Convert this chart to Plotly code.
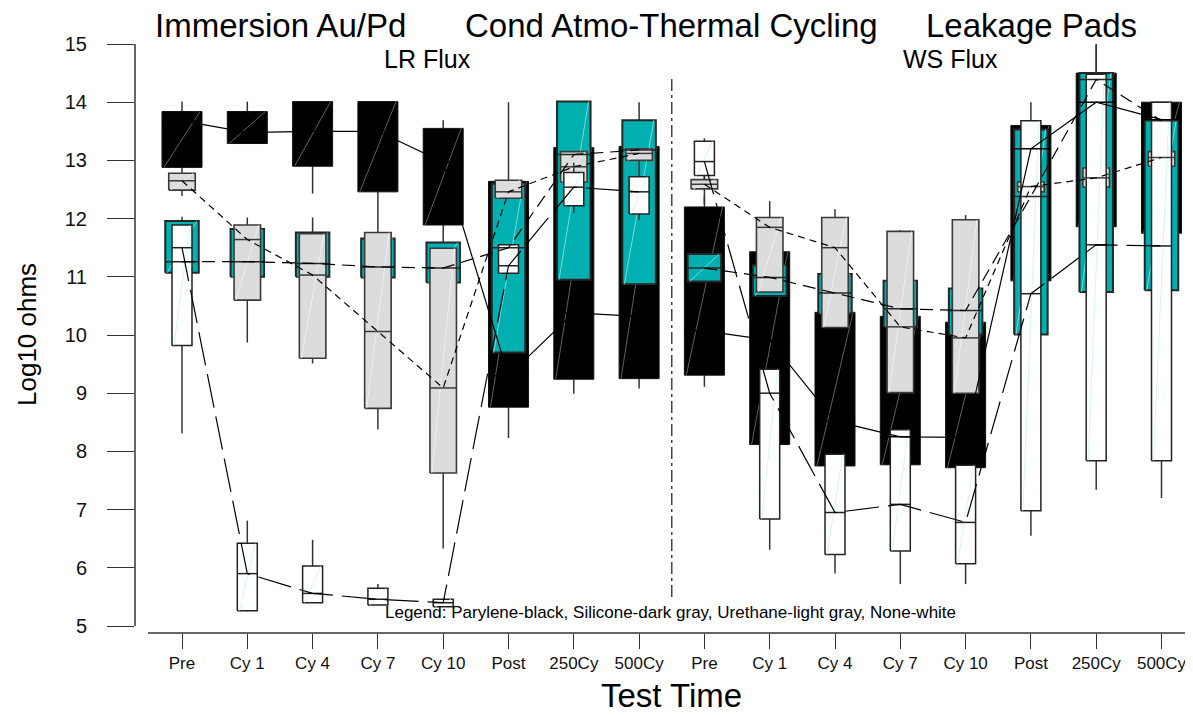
import plotly.graph_objects as go

# ---------------- data ----------------
tick_labels = ["Pre", "Cy 1", "Cy 4", "Cy 7", "Cy 10", "Post", "250Cy", "500Cy",
               "Pre", "Cy 1", "Cy 4", "Cy 7", "Cy 10", "Post", "250Cy", "500Cy"]
positions = list(range(16))

# Parylene (black)
parylene_q1 = [12.88, 13.29, 12.90, 12.46, 11.89, 8.76, 9.24, 9.25,
               9.31, 8.12, 7.75, 7.77, 7.72, 10.93, 11.86, 11.75]
parylene_q3 = [13.84, 13.84, 14.01, 14.01, 13.55, 12.64, 13.22, 13.24,
               12.20, 11.43, 10.39, 10.32, 10.22, 13.60, 14.50, 14.00]
parylene_med = [13.68, 13.48, 13.50, 13.50, 12.97, 9.30, 10.38, 10.32,
                10.07, 9.91, 8.52, 8.25, 8.24, 13.20, 14.00, 13.70]
parylene_lo = [12.70, 13.29, 12.43, 11.70, 11.60, 8.23, 8.99, 9.08,
               9.11, 8.12, 7.75, 7.77, 7.72, 10.93, 11.86, 11.75]
parylene_hi = [14.01, 14.01, 14.01, 14.01, 13.69, 12.64, 13.22, 13.24,
               12.38, 11.43, 10.39, 10.32, 10.22, 13.60, 14.98, 14.00]

# Silicone (teal)
silicone_q1 = [11.07, 11.00, 11.00, 10.99, 10.90, 9.70, 10.95, 10.87,
               10.92, 10.67, 10.37, 10.14, 10.01, 10.01, 10.74, 10.77]
silicone_q3 = [11.96, 11.82, 11.76, 11.66, 11.59, 12.60, 14.01, 13.69,
               11.39, 11.20, 11.05, 10.93, 10.80, 13.53, 14.50, 13.70]
silicone_med = [11.26, 11.26, 11.23, 11.17, 11.15, 11.50, 13.10, 13.18,
                11.15, 10.99, 10.72, 10.45, 10.42, 12.38, 14.39, 13.68]
silicone_lo = [11.07, 11.00, 11.00, 10.99, 10.90, 9.70, 10.95, 10.87,
               10.92, 10.67, 10.37, 10.14, 10.01, 10.01, 10.74, 10.77]
silicone_hi = [12.03, 11.82, 11.76, 11.66, 11.59, 14.00, 14.01, 14.00,
               11.39, 11.20, 11.05, 10.93, 10.80, 13.53, 14.50, 13.70]

# Urethane (light gray)
urethane_q1 = [12.49, 10.60, 9.60, 8.74, 7.63, 12.35, 12.63, 13.00,
               12.51, 10.74, 10.13, 9.01, 9.00, 12.46, 12.54, 12.90]
urethane_q3 = [12.78, 11.89, 11.74, 11.76, 11.49, 12.66, 13.15, 13.20,
               12.67, 12.02, 12.02, 11.78, 11.98, 12.63, 12.87, 13.15]
urethane_med = [12.65, 11.64, 11.03, 10.06, 9.09, 12.46, 12.89, 13.12,
                12.59, 11.85, 11.50, 10.14, 9.95, 12.55, 12.70, 13.05]
urethane_lo = [12.39, 9.87, 9.51, 8.38, 6.33, 12.35, 12.63, 13.00,
               12.25, 10.74, 10.13, 9.01, 9.00, 12.46, 12.54, 12.90]
urethane_hi = [12.78, 12.02, 12.02, 11.76, 11.49, 12.66, 13.15, 13.20,
               12.74, 12.30, 12.16, 11.80, 12.06, 12.63, 12.87, 13.15]

# None (white)
none_q1 = [9.82, 5.26, 5.40, 5.36, 5.33, 11.06, 12.22, 12.08,
           12.74, 6.84, 6.23, 6.29, 6.07, 6.98, 7.84, 7.84]
none_q3 = [11.89, 6.42, 6.03, 5.65, 5.46, 11.55, 12.79, 12.72,
           13.33, 9.41, 7.95, 8.37, 7.76, 13.68, 14.48, 14.00]
none_med = [11.50, 5.90, 5.56, 5.46, 5.40, 11.19, 12.54, 12.46,
            12.98, 9.00, 6.95, 7.09, 6.78, 10.71, 11.55, 11.53]
none_lo = [8.31, 5.25, 5.40, 5.36, 5.33, 11.06, 12.10, 11.98,
           12.67, 6.31, 5.90, 5.72, 5.72, 6.55, 7.34, 7.20]
none_hi = [11.89, 6.81, 6.48, 5.72, 5.46, 11.55, 12.96, 13.00,
           13.38, 9.41, 7.95, 8.37, 7.76, 14.00, 15.00, 14.00]

y_ticks = [5, 6, 7, 8, 9, 10, 11, 12, 13, 14, 15]
group_break = 7.5  # divider between LR Flux and WS Flux groups

# ---------------- styling ----------------
FONT = "Arial, 'Liberation Sans', sans-serif"
series = [
    dict(name="Parylene", q1=parylene_q1, q3=parylene_q3, med=parylene_med, lo=parylene_lo, hi=parylene_hi,
         w=0.613, fill="#000000", edge="#111111", ew=1.0, medc="#000000", diag="#8a8a8a",
         dash="solid"),
    dict(name="Silicone", q1=silicone_q1, q3=silicone_q3, med=silicone_med, lo=silicone_lo, hi=silicone_hi,
         w=0.513, fill="#00B0B0", edge="#262626", ew=2.0, medc="#262626", diag="#a8eeee",
         dash="13px,7px"),
    dict(name="Urethane", q1=urethane_q1, q3=urethane_q3, med=urethane_med, lo=urethane_lo, hi=urethane_hi,
         w=0.406, fill="#DCDCDC", edge="#3a3a3a", ew=1.6, medc="#3a3a3a", diag="#f6f6f6",
         dash="7px,5px"),
    dict(name="None", q1=none_q1, q3=none_q3, med=none_med, lo=none_lo, hi=none_hi,
         w=0.306, fill="#FFFFFF", edge="#222222", ew=1.5, medc="#222222", diag="#c4efef",
         dash="34px,9px"),
]

fig = go.Figure()

# boxes with whiskers, back to front
for s in series:
    w = s["w"]
    wx, wy = [], []
    for p, a, b, lo, hi in zip(positions, s["q1"], s["q3"], s["lo"], s["hi"]):
        wx += [p, p, None, p, p, None]
        wy += [b, hi, None, a, lo, None]
    fig.add_trace(go.Scatter(x=wx, y=wy, mode="lines", line=dict(color="#333333", width=1.5),
                             hoverinfo="skip", showlegend=False))
    bx, by = [], []
    for p, a, b in zip(positions, s["q1"], s["q3"]):
        bx += [p - w / 2, p + w / 2, p + w / 2, p - w / 2, p - w / 2, None]
        by += [a, a, b, b, a, None]
    fig.add_trace(go.Scatter(x=bx, y=by, mode="lines", fill="toself", fillcolor=s["fill"],
                             line=dict(color=s["edge"], width=s["ew"]), name=s["name"],
                             hoverinfo="skip", showlegend=False))
    dx, dy = [], []
    for p, a, b in zip(positions, s["q1"], s["q3"]):
        dx += [p - w / 2 + 0.03, p + w / 2 - 0.03, None]
        dy += [a, b, None]
    fig.add_trace(go.Scatter(x=dx, y=dy, mode="lines", line=dict(color=s["diag"], width=0.7),
                             hoverinfo="skip", showlegend=False))

# medians drawn over all boxes
for s in series:
    w = s["w"]
    mx, my = [], []
    for p, m in zip(positions, s["med"]):
        mx += [p - w / 2, p + w / 2, None]
        my += [m, m, None]
    fig.add_trace(go.Scatter(x=mx, y=my, mode="lines", line=dict(color=s["medc"], width=1.5),
                             hoverinfo="skip", showlegend=False))

# median-connecting lines (on top), separate for each flux group
for s in series:
    lx, ly = [], []
    for p, m in zip(positions, s["med"]):
        if p > group_break and lx and lx[-1] is not None and lx[-1] < group_break:
            lx.append(None)
            ly.append(None)
        lx.append(p)
        ly.append(m)
    fig.add_trace(go.Scatter(x=lx, y=ly, mode="lines", connectgaps=False,
                             line=dict(color="#000000", width=1.2, dash=s["dash"]),
                             hoverinfo="skip", showlegend=False))

# page has an 8px body margin; figure sized so it ends at the window edge
OFF = 8
W, H = 1193 - OFF, 715 - OFF
L, T, B = 135 - OFF, 41 - OFF, 82
plot_w = W - L
plot_h = H - T - B
px_per_unit = 65.3
x_left = -(182 - 135) / px_per_unit
x_right = x_left + plot_w / px_per_unit
y_bottom = 5 - 7 / 58.2
y_top = 15 + 3 / 58.2


def px_x(px):
    return (px - OFF - L) / plot_w


def px_y(py):
    return (H - B - (py - OFF)) / plot_h


fig.update_layout(
    width=W, height=H,
    margin=dict(l=L, r=0, t=T, b=B, pad=0),
    plot_bgcolor="white", paper_bgcolor="white",
    font=dict(family=FONT, color="#111111"),
    showlegend=False,
    xaxis=dict(range=[x_left, x_right], tickmode="array", tickvals=positions, ticktext=tick_labels,
               ticks="outside", ticklen=15, tickwidth=1.3, tickcolor="#333333",
               showline=False, showgrid=False, zeroline=False, tickfont=dict(size=17, family=FONT)),
    yaxis=dict(range=[y_bottom, y_top], tickmode="array", tickvals=y_ticks,
               ticks="outside", ticklen=27, tickwidth=1.3, tickcolor="#333333",
               showline=False, showgrid=False, zeroline=False, tickfont=dict(size=20, family=FONT),
               ticklabelstandoff=16),
    shapes=[
        dict(type="line", xref="paper", yref="y", x0=0, x1=0, y0=min(y_ticks), y1=max(y_ticks),
             line=dict(color="#333333", width=1.5)),
        dict(type="line", xref="x", yref="paper", x0=-0.52, x1=x_right, y0=0, y1=0,
             line=dict(color="#333333", width=1.5)),
        dict(type="line", xref="x", yref="y", x0=group_break, x1=group_break, y0=5.5, y1=14.45,
             line=dict(color="#444444", width=1.5, dash="12px,4px,3px,4px")),
    ],
    annotations=[
        dict(text="Immersion Au/Pd", x=px_x(280), y=px_y(26), xref="paper", yref="paper",
             showarrow=False, font=dict(size=33, family=FONT, color="#000000"), xanchor="center", yanchor="middle"),
        dict(text="Cond Atmo-Thermal Cycling", x=px_x(671), y=px_y(26), xref="paper", yref="paper",
             showarrow=False, font=dict(size=33, family=FONT, color="#000000"), xanchor="center", yanchor="middle"),
        dict(text="Leakage Pads", x=px_x(1031), y=px_y(26), xref="paper", yref="paper",
             showarrow=False, font=dict(size=33, family=FONT, color="#000000"), xanchor="center", yanchor="middle"),
        dict(text="LR Flux", x=px_x(427), y=px_y(59), xref="paper", yref="paper",
             showarrow=False, font=dict(size=25, family=FONT, color="#000000"), xanchor="center", yanchor="middle"),
        dict(text="WS Flux", x=px_x(950), y=px_y(59), xref="paper", yref="paper",
             showarrow=False, font=dict(size=25, family=FONT, color="#000000"), xanchor="center", yanchor="middle"),
        dict(text="Legend: Parylene-black, Silicone-dark gray, Urethane-light gray, None-white",
             x=px_x(670), y=px_y(612), xref="paper", yref="paper",
             showarrow=False, font=dict(size=17, family=FONT, color="#000000"), xanchor="center", yanchor="middle"),
        dict(text="Test Time", x=px_x(671), y=px_y(695), xref="paper", yref="paper",
             showarrow=False, font=dict(size=33, family=FONT, color="#000000"), xanchor="center", yanchor="middle"),
        dict(text="Log10 ohms", x=px_x(27), y=px_y(335), xref="paper", yref="paper", textangle=-90,
             showarrow=False, font=dict(size=26, family=FONT, color="#000000"), xanchor="center", yanchor="middle"),
    ],
)

fig.write_html("out.html")
